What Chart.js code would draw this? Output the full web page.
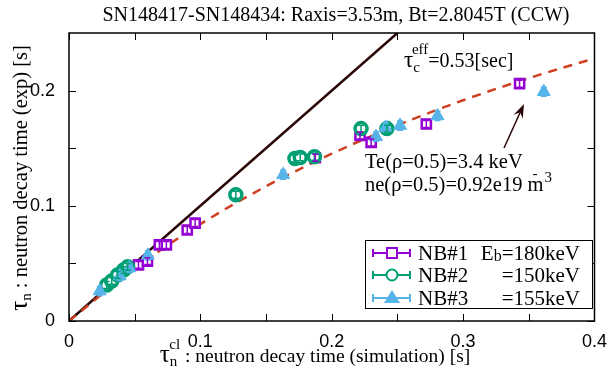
<!DOCTYPE html>
<html>
<head>
<meta charset="utf-8">
<script src="https://cdn.jsdelivr.net/npm/chart.js@4.4.1/dist/chart.umd.min.js"></script>
<style>
  html, body { margin: 0; padding: 0; background: #fff; }
</style>
</head>
<body>
<canvas id="chart" width="609" height="373"></canvas>
<script>
/* data */
const nb1X   = [0.0529, 0.0597, 0.0688, 0.0741, 0.0900, 0.0960, 0.1875, 0.2215, 0.2300, 0.2720, 0.3430];
const nb1Y   = [0.0487, 0.0520, 0.0660, 0.0660, 0.0790, 0.0850, 0.1417, 0.1610, 0.1550, 0.1710, 0.2060];
const nb1Err = [0.003, 0.003, 0.003, 0.003, 0.003, 0.003, 0.003, 0.003, 0.003, 0.003, 0.003];

const nb2X   = [0.0287, 0.0325, 0.0370, 0.0416, 0.0446, 0.1270, 0.1720, 0.1760, 0.1868, 0.2223, 0.2420];
const nb2Y   = [0.0313, 0.0348, 0.0400, 0.0443, 0.0470, 0.1096, 0.1410, 0.1420, 0.1426, 0.1670, 0.1670];
const nb2Err = [0.003, 0.003, 0.003, 0.003, 0.003, 0.003, 0.003, 0.003, 0.003, 0.003, 0.003];

const nb3X   = [0.0234, 0.0386, 0.0460, 0.0600, 0.1630, 0.2337, 0.2410, 0.2520, 0.2805, 0.3614];
const nb3Y   = [0.0260, 0.0390, 0.0460, 0.0570, 0.1270, 0.1600, 0.1680, 0.1696, 0.1780, 0.1990];
const nb3Err = [0.004, 0.004, 0.004, 0.004, 0.004, 0.004, 0.004, 0.004, 0.004, 0.004];

/* tau_exp = tau_cl line and the tau_c^eff = 0.53 s fit */
const diagX = [0, 0.25];
const diagY = [0, 0.25];
const fitX  = [0, 0.05, 0.10, 0.15, 0.20, 0.25, 0.30, 0.35, 0.40];
const fitY  = [0, 0.0457, 0.0841, 0.1169, 0.1452, 0.1699, 0.1916, 0.2108, 0.2280];

const xTicks      = [0, 0.1, 0.2, 0.3, 0.4];
const xMinorTicks = [0.05, 0.15, 0.25, 0.35];
const yTicks      = [0, 0.1, 0.2];
const yMinorTicks = [0.05, 0.15];

const seriesNames  = ['NB#1', 'NB#2', 'NB#3'];
const seriesEnergy = ['180keV', '150keV', '155keV'];

const PURPLE = '#9400d3';
const GREEN  = '#009e73';
const BLUE   = '#56b4e9';
const SERIF  = "'Liberation Serif', 'DejaVu Serif', serif";
const SANS   = "'Liberation Sans', Arial, sans-serif";

const pts = (xs, ys) => xs.map((x, i) => ({ x, y: ys[i] }));

/* draws a list of [text, size, dy, dx] pieces, returns end x */
function rich(ctx, x, y, parts) {
  parts.forEach(([t, size, dy = 0, dx = 0]) => {
    ctx.font = size + 'px ' + SERIF;
    ctx.fillText(t, x + dx, y + dy);
    x += dx + ctx.measureText(t).width;
  });
  return x;
}
function richWidth(ctx, parts) {
  let w = 0;
  parts.forEach(([t, size, dy = 0, dx = 0]) => {
    ctx.font = size + 'px ' + SERIF;
    w += dx + ctx.measureText(t).width;
  });
  return w;
}

const errorBars = {
  id: 'errorBars',
  afterDatasetsDraw(chart) {
    const ctx = chart.ctx;
    const ys = chart.scales.y;
    chart.data.datasets.forEach((ds, di) => {
      if (!ds.yErr) return;
      const meta = chart.getDatasetMeta(di);
      ctx.save();
      ctx.strokeStyle = ds.borderColor;
      ctx.lineWidth = 1.5;
      meta.data.forEach((el, i) => {
        const v = ds.data[i].y, e = ds.yErr[i];
        const y1 = ys.getPixelForValue(v - e), y2 = ys.getPixelForValue(v + e);
        ctx.beginPath();
        ctx.moveTo(el.x, y1); ctx.lineTo(el.x, y2);
        ctx.moveTo(el.x - 3, y1); ctx.lineTo(el.x + 3, y1);
        ctx.moveTo(el.x - 3, y2); ctx.lineTo(el.x + 3, y2);
        ctx.stroke();
      });
      ctx.restore();
    });
  }
};

const decor = {
  id: 'decor',
  afterDraw(chart) {
    const ctx = chart.ctx;
    const a = chart.chartArea;
    const xs = chart.scales.x, ys = chart.scales.y;
    ctx.save();

    /* frame and inward ticks on all four sides */
    ctx.strokeStyle = '#000';
    ctx.lineWidth = 1.5;
    ctx.strokeRect(a.left, a.top, a.right - a.left, a.bottom - a.top);
    ctx.lineWidth = 1;
    ctx.beginPath();
    xTicks.concat(xMinorTicks).forEach(v => {
      const px = Math.round(xs.getPixelForValue(v)) + 0.5;
      ctx.moveTo(px, a.bottom); ctx.lineTo(px, a.bottom - 7);
      ctx.moveTo(px, a.top);    ctx.lineTo(px, a.top + 7);
    });
    yTicks.concat(yMinorTicks).forEach(v => {
      const py = Math.round(ys.getPixelForValue(v)) + 0.5;
      ctx.moveTo(a.left, py);  ctx.lineTo(a.left + 7, py);
      ctx.moveTo(a.right, py); ctx.lineTo(a.right - 7, py);
    });
    ctx.stroke();

    ctx.fillStyle = '#000';
    ctx.textBaseline = 'alphabetic';
    ctx.textAlign = 'left';

    /* title */
    ctx.font = '20px ' + SERIF;
    ctx.textAlign = 'center';
    ctx.fillText('SN148417-SN148434: Raxis=3.53m, Bt=2.8045T (CCW)', 336, 21);
    ctx.textAlign = 'left';

    /* x axis title */
    const xt = [['τ', 25], ['n', 15, 4], ['cl', 15, -13, -8], [' : neutron decay time (simulation) [s]', 19.5]];
    rich(ctx, 315 - richWidth(ctx, xt) / 2, 362, xt);

    /* y axis title */
    ctx.save();
    ctx.translate(27, 178);
    ctx.rotate(-Math.PI / 2);
    const yt = [['τ', 25], ['n', 15, 4], [' : neutron decay time (exp) [s]', 20.5]];
    rich(ctx, -richWidth(ctx, yt) / 2, 0, yt);
    ctx.restore();

    /* annotations */
    rich(ctx, 404, 67, [['τ', 23], ['c', 15, 5], ['eff', 15, -13, -8], ['=0.53[sec]', 20]]);
    rich(ctx, 365, 168, [['Te(ρ=0.5)=3.4 keV', 20.5]]);
    const endM = rich(ctx, 365, 191, [['ne(ρ=0.5)=0.92e19 m', 20.5]]);
    rich(ctx, endM - 11, 191, [['-', 15, -13]]);
    rich(ctx, endM + 1, 191, [['3', 15, -9]]);

    /* arrow */
    const tx = 504, ty = 148, hx = 524, hy = 104;
    const ang = Math.atan2(hy - ty, hx - tx);
    ctx.strokeStyle = '#2a0505';
    ctx.fillStyle = '#2a0505';
    ctx.lineWidth = 1.5;
    ctx.beginPath();
    ctx.moveTo(tx, ty);
    ctx.lineTo(hx - 8 * Math.cos(ang), hy - 8 * Math.sin(ang));
    ctx.stroke();
    ctx.beginPath();
    ctx.moveTo(hx, hy);
    ctx.lineTo(hx - 14 * Math.cos(ang) + 5 * Math.sin(ang), hy - 14 * Math.sin(ang) - 5 * Math.cos(ang));
    ctx.lineTo(hx - 9 * Math.cos(ang), hy - 9 * Math.sin(ang));
    ctx.lineTo(hx - 14 * Math.cos(ang) - 5 * Math.sin(ang), hy - 14 * Math.sin(ang) + 5 * Math.cos(ang));
    ctx.closePath();
    ctx.fill();

    /* legend */
    ctx.fillStyle = '#fff';
    ctx.fillRect(365, 240, 227, 68);
    ctx.strokeStyle = '#000';
    ctx.lineWidth = 1;
    ctx.strokeRect(365.5, 240.5, 227, 68);
    const colors = [PURPLE, GREEN, BLUE];
    const rows = [253, 275, 298];
    rows.forEach((ry, i) => {
      const c = colors[i];
      ctx.strokeStyle = c;
      ctx.fillStyle = c;
      ctx.lineWidth = 2;
      ctx.beginPath();
      ctx.moveTo(373, ry); ctx.lineTo(410, ry);
      ctx.moveTo(373, ry - 4); ctx.lineTo(373, ry + 4);
      ctx.moveTo(410, ry - 4); ctx.lineTo(410, ry + 4);
      ctx.stroke();
      const mx = 392;
      if (i === 0) {
        ctx.fillStyle = '#fff';
        ctx.fillRect(mx - 5, ry - 5, 10, 10);
        ctx.strokeRect(mx - 5, ry - 5, 10, 10);
      } else if (i === 1) {
        ctx.fillStyle = '#fff';
        ctx.beginPath(); ctx.arc(mx, ry, 5.5, 0, Math.PI * 2); ctx.fill(); ctx.stroke();
      } else {
        ctx.beginPath();
        ctx.moveTo(mx, ry - 8); ctx.lineTo(mx + 8, ry + 5); ctx.lineTo(mx - 8, ry + 5);
        ctx.closePath(); ctx.fill();
      }
      ctx.fillStyle = '#000';
      rich(ctx, 418, ry + 7, [[seriesNames[i], 21]]);
      const en = [['=' + seriesEnergy[i], 21]];
      const w = richWidth(ctx, en);
      rich(ctx, 580 - w, ry + 7, en);
      if (i === 0) {
        const eb = [['E', 21], ['b', 16, 1]];
        rich(ctx, 580 - w - richWidth(ctx, eb), ry + 7, eb);
      }
    });

    ctx.restore();
  }
};

new Chart(document.getElementById('chart'), {
  type: 'scatter',
  data: {
    datasets: [
      {
        label: seriesNames[2], data: pts(nb3X, nb3Y), yErr: nb3Err, order: 0,
        pointStyle: 'triangle', pointRadius: 7.5, pointHoverRadius: 7.5,
        backgroundColor: BLUE, borderColor: BLUE, borderWidth: 1
      },
      {
        label: seriesNames[1], data: pts(nb2X, nb2Y), yErr: nb2Err, order: 1,
        pointStyle: 'circle', pointRadius: 6, pointHoverRadius: 6,
        backgroundColor: '#fff', borderColor: GREEN, borderWidth: 3.5
      },
      {
        label: seriesNames[0], data: pts(nb1X, nb1Y), yErr: nb1Err, order: 2,
        pointStyle: 'rect', pointRadius: 6.5, pointHoverRadius: 6.5,
        backgroundColor: '#fff', borderColor: PURPLE, borderWidth: 2.5
      },
      {
        type: 'line', label: 'fit', data: pts(fitX, fitY), order: 3,
        borderColor: '#d04020', borderWidth: 2.5, borderDash: [9, 7],
        pointRadius: 0, fill: false, cubicInterpolationMode: 'monotone'
      },
      {
        type: 'line', label: 'diag', data: pts(diagX, diagY), order: 4,
        borderColor: '#2a0505', borderWidth: 2.5, pointRadius: 0, fill: false
      }
    ]
  },
  options: {
    responsive: false,
    animation: false,
    events: [],
    layout: { padding: { top: 33, right: 11, left: 0, bottom: 0 } },
    plugins: { legend: { display: false }, tooltip: { enabled: false } },
    scales: {
      x: {
        type: 'linear', min: 0, max: 0.4,
        grid: { display: false }, border: { display: false },
        afterBuildTicks: s => { s.ticks = xTicks.map(v => ({ value: v })); },
        afterFit: s => { s.height = 52; },
        ticks: { color: '#000', font: { family: SANS, size: 18 }, padding: 2, maxRotation: 0,
                 callback: v => String(v) }
      },
      y: {
        type: 'linear', min: 0, max: 0.25,
        grid: { display: false }, border: { display: false },
        afterBuildTicks: s => { s.ticks = yTicks.map(v => ({ value: v })); },
        afterFit: s => { s.width = 69; },
        ticks: { color: '#000', font: { family: SANS, size: 18 }, padding: 6,
                 callback: v => String(v) }
      }
    }
  },
  plugins: [errorBars, decor]
});
</script>
</body>
</html>
